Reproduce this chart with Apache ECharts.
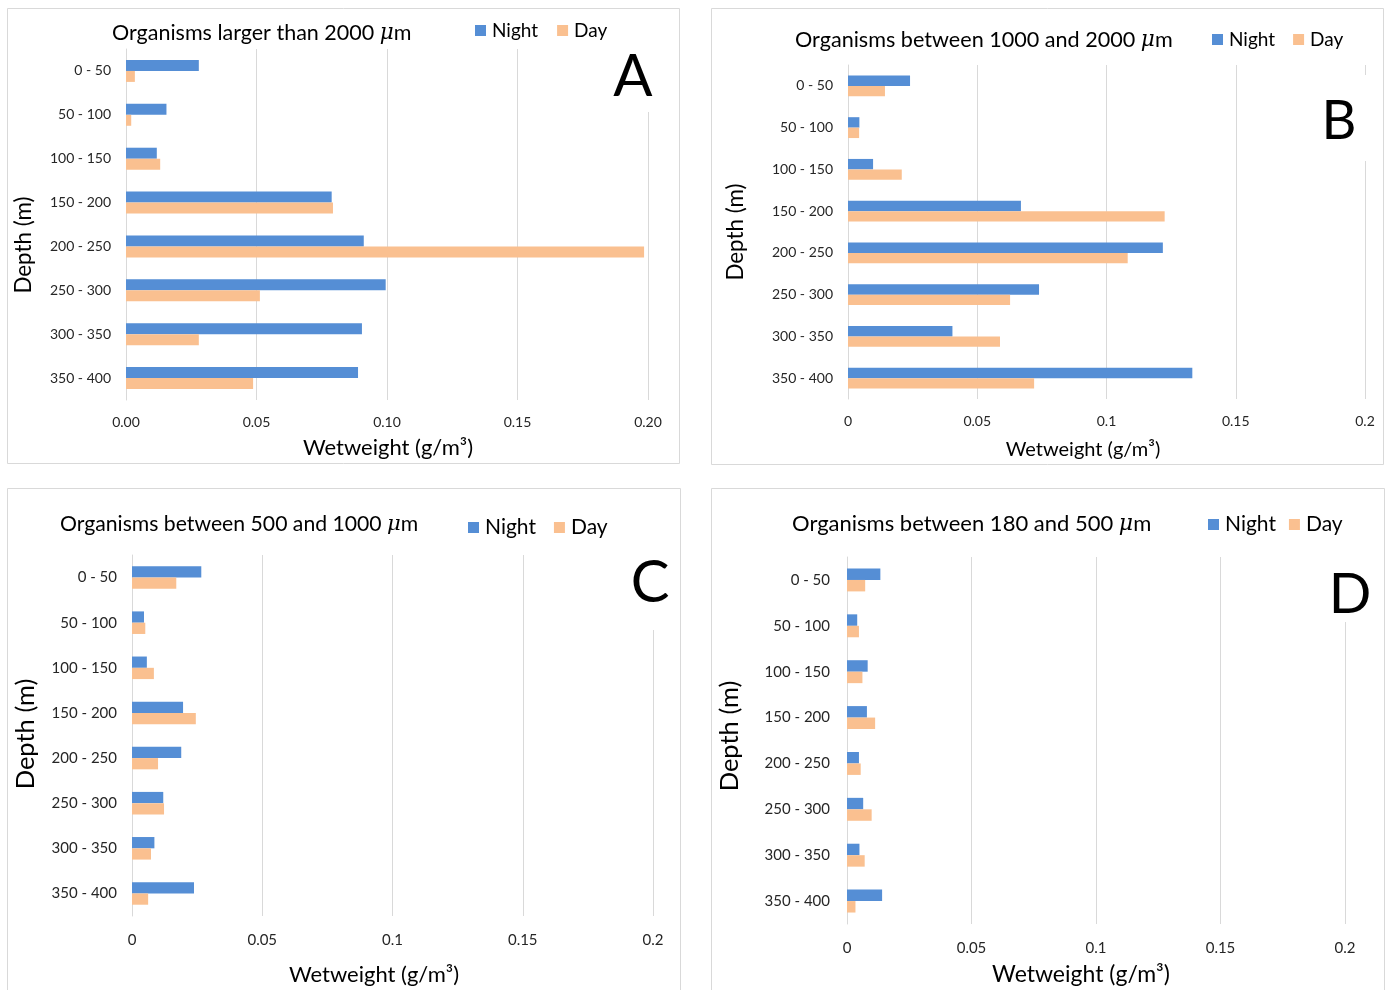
<!DOCTYPE html>
<html>
<head>
<meta charset="utf-8">
<script src="https://cdn.jsdelivr.net/npm/echarts@6/dist/echarts.min.js"></script>
<style>
  html, body { margin: 0; padding: 0; background: #fff; }
  #chart { width: 1391px; height: 990px; }
</style>
</head>
<body>
<div id="chart"></div>
<script>
// Depth bins (m), shallowest first
const depthBins = ['0 - 50', '50 - 100', '100 - 150', '150 - 200', '200 - 250', '250 - 300', '300 - 350', '350 - 400'];

// Wet weight (g/m3) per size class
const nightA = [0.0279, 0.0155, 0.0118, 0.0788, 0.0911, 0.0995, 0.0904, 0.0889];
const dayA   = [0.0034, 0.0020, 0.0131, 0.0793, 0.1985, 0.0513, 0.0279, 0.0487];

const nightB = [0.0240, 0.0044, 0.0097, 0.0669, 0.1218, 0.0739, 0.0404, 0.1332];
const dayB   = [0.0143, 0.0043, 0.0208, 0.1225, 0.1082, 0.0627, 0.0588, 0.0720];

const nightC = [0.0266, 0.0046, 0.0057, 0.0196, 0.0189, 0.0120, 0.0086, 0.0238];
const dayC   = [0.0170, 0.0051, 0.0084, 0.0245, 0.0100, 0.0123, 0.0073, 0.0062];

const nightD = [0.0134, 0.0041, 0.0083, 0.0080, 0.0048, 0.0065, 0.0050, 0.0141];
const dayD   = [0.0073, 0.0048, 0.0062, 0.0113, 0.0055, 0.0099, 0.0071, 0.0034];

// Tick labels for the wet weight axis
const ticksFixed = ['0.00', '0.05', '0.10', '0.15', '0.20'];
const ticksPlain = ['0', '0.05', '0.1', '0.15', '0.2'];

const panelTitles = [
  'Organisms larger than 2000 {i|μ}m',
  'Organisms between 1000 and 2000 {i|μ}m',
  'Organisms between 500 and 1000 {i|μ}m',
  'Organisms between 180 and 500 {i|μ}m'
];
const panelLetters = ['A', 'B', 'C', 'D'];
const seriesNames = ['Night', 'Day'];

const FONT = 'Lato, "Open Sans", sans-serif';
const NIGHT = '#558ED5';
const DAY = '#FAC090';
const GRID_LINE = '#D9D9D9';

const panels = [
  { night: nightA, day: dayA, ticks: ticksFixed,
    grid: { left: 126, top: 49, width: 522, height: 351 },
    labelSize: 14, labelMargin: 15, xLabelMargin: 15,
    title: { left: 107, top: 17, size: 21.5 },
    legend: { left: 470, top: 16, size: 19, gap: 19 },
    xName: { x: 388, y: 448, size: 22 },
    yName: { x: 24, y: 245, size: 22.4 },
    letter: { x: 633, y: 77, size: 58 },
    cover: { x: 640, y: 49, w: 16, h: 63 } },
  { night: nightB, day: dayB, ticks: ticksPlain,
    grid: { left: 848, top: 65, width: 517, height: 334 },
    labelSize: 14, labelMargin: 15, xLabelMargin: 15,
    title: { left: 790, top: 24, size: 21.6 },
    legend: { left: 1207, top: 25, size: 19, gap: 18 },
    xName: { x: 1083, y: 450, size: 20 },
    yName: { x: 736, y: 232, size: 22.4 },
    letter: { x: 1339, y: 122, size: 54 },
    cover: { x: 1357, y: 75, w: 16, h: 86 } },
  { night: nightC, day: dayC, ticks: ticksPlain,
    grid: { left: 132, top: 555, width: 521, height: 361 },
    labelSize: 15, labelMargin: 15, xLabelMargin: 17,
    title: { left: 55, top: 509, size: 21.2 },
    legend: { left: 463, top: 512, size: 21, gap: 18 },
    xName: { x: 374, y: 975, size: 22 },
    yName: { x: 26, y: 734, size: 25.5 },
    letter: { x: 650, y: 583, size: 58 },
    cover: { x: 645, y: 555, w: 16, h: 75 } },
  { night: nightD, day: dayD, ticks: ticksPlain,
    grid: { left: 847, top: 557, width: 498, height: 367 },
    labelSize: 15, labelMargin: 17, xLabelMargin: 17,
    title: { left: 787, top: 508, size: 22 },
    legend: { left: 1203, top: 509, size: 21, gap: 13 },
    xName: { x: 1081, y: 975, size: 23 },
    yName: { x: 730, y: 736, size: 25.5 },
    letter: { x: 1350, y: 595, size: 56 },
    cover: { x: 1337, y: 557, w: 16, h: 65 } }
];

const grids = [], xAxes = [], yAxes = [], series = [], titles = [], legends = [], graphics = [];

// Panel frames
[[7.5, 8.5, 672, 455], [711.5, 8.5, 672, 456], [7.5, 488.5, 673, 520], [711.5, 488.5, 673, 520]].forEach(function (b) {
  graphics.push({ type: 'rect', shape: { x: b[0], y: b[1], width: b[2], height: b[3] },
    style: { fill: 'none', stroke: GRID_LINE, lineWidth: 1 }, z: 1 });
});

panels.forEach(function (p, i) {
  grids.push(Object.assign({ containLabel: false }, p.grid));

  xAxes.push({
    type: 'value', gridIndex: i, min: 0, max: 0.2, interval: 0.05,
    axisLine: { show: false }, axisTick: { show: false },
    splitLine: { show: true, lineStyle: { color: GRID_LINE, width: 1 } },
    axisLabel: {
      margin: p.xLabelMargin, fontFamily: FONT, fontSize: p.labelSize, color: '#262626',
      formatter: function (v) { return p.ticks[Math.round(v / 0.05)]; }
    }
  });

  yAxes.push({
    type: 'category', gridIndex: i, inverse: true, data: depthBins,
    axisLine: { show: true, lineStyle: { color: GRID_LINE, width: 1 } },
    axisTick: { show: false },
    axisLabel: { margin: p.labelMargin, fontFamily: FONT, fontSize: p.labelSize, color: '#262626' }
  });

  [p.night, p.day].forEach(function (vals, k) {
    series.push({
      name: seriesNames[k], type: 'bar', xAxisIndex: i, yAxisIndex: i,
      data: vals, barGap: '0%', barCategoryGap: '50%',
      itemStyle: { color: k === 0 ? NIGHT : DAY },
      emphasis: { disabled: true }, z: 3
    });
  });

  titles.push({
    text: panelTitles[i], left: p.title.left, top: p.title.top,
    textStyle: {
      fontFamily: FONT, fontSize: p.title.size, fontWeight: 'normal', color: '#000',
      rich: { i: { fontFamily: '"DejaVu Serif", serif', fontStyle: 'italic', fontSize: p.title.size, color: '#000' } }
    }
  });

  legends.push({
    data: seriesNames, left: p.legend.left, top: p.legend.top,
    icon: 'rect', itemWidth: 11, itemHeight: 11, itemGap: p.legend.gap,
    textStyle: { fontFamily: FONT, fontSize: p.legend.size, color: '#000', padding: [0, 0, 0, 1] }
  });

  // White patch behind the panel letter
  graphics.push({ type: 'rect', shape: { x: p.cover.x, y: p.cover.y, width: p.cover.w, height: p.cover.h },
    style: { fill: '#fff' }, z: 5 });
  graphics.push({ type: 'text', x: p.letter.x, y: p.letter.y, z: 6,
    style: { text: panelLetters[i], fontFamily: FONT, fontSize: p.letter.size, fontWeight: 'normal',
      fill: '#000', align: 'center', verticalAlign: 'middle' } });

  graphics.push({ type: 'text', x: p.xName.x, y: p.xName.y, z: 6,
    style: { text: 'Wetweight (g/m³)', fontFamily: FONT, fontSize: p.xName.size,
      fill: '#000', align: 'center', verticalAlign: 'middle' } });
  graphics.push({ type: 'text', x: p.yName.x, y: p.yName.y, rotation: Math.PI / 2, z: 6,
    style: { text: 'Depth (m)', fontFamily: FONT, fontSize: p.yName.size,
      fill: '#000', align: 'center', verticalAlign: 'middle' } });
});

const chart = echarts.init(document.getElementById('chart'), null, { renderer: 'canvas' });
chart.setOption({
  animation: false,
  backgroundColor: '#fff',
  title: titles,
  legend: legends,
  grid: grids,
  xAxis: xAxes,
  yAxis: yAxes,
  series: series,
  graphic: graphics
});
</script>
</body>
</html>
